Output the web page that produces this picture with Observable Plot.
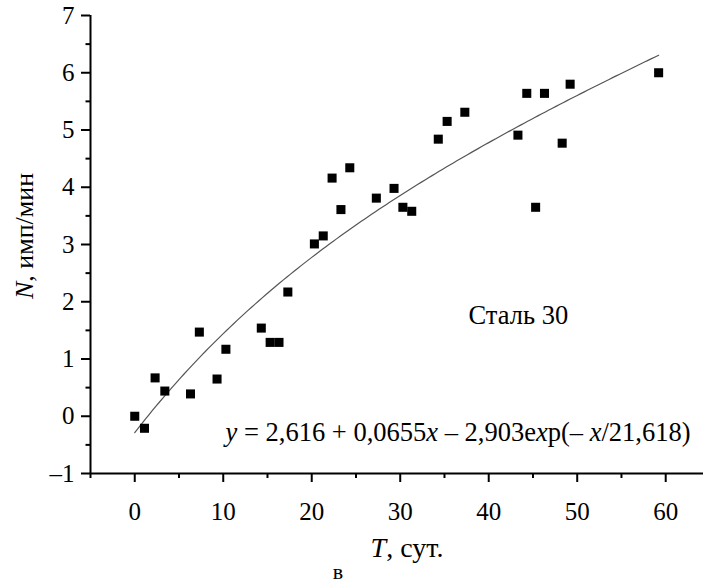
<!DOCTYPE html>
<html><head><meta charset="utf-8">
<script src="https://cdn.jsdelivr.net/npm/d3@7"></script>
<script src="https://cdn.jsdelivr.net/npm/@observablehq/plot@0.6"></script>
<style>
body{margin:0;background:#fff;font-family:"Liberation Serif",serif;}
svg{display:block;}
</style>
</head><body><div id="chart"></div>
<script>
// Data
const days   = [0, 1.1, 2.3, 3.4, 6.3, 7.3, 9.3, 10.3, 14.3, 15.3, 16.3, 17.3,
                20.3, 21.3, 22.3, 23.3, 24.3, 27.3, 29.3, 30.3, 31.3,
                34.3, 35.3, 37.3, 43.3, 44.3, 45.3, 46.3, 48.3, 49.2, 59.2];
const counts = [0, -0.21, 0.67, 0.44, 0.39, 1.47, 0.65, 1.17, 1.54, 1.29, 1.29, 2.17,
                3.01, 3.15, 4.16, 3.61, 4.34, 3.81, 3.98, 3.65, 3.58,
                4.84, 5.15, 5.31, 4.91, 5.64, 3.65, 5.64, 4.77, 5.80, 6.00];
// Fitted model shown on the chart: y = a + b*x - c*exp(-x/t)
const fitCoef = {a: 2.616, b: 0.0655, c: 2.903, t: 21.618};
const fitRange = [0, 59.2];
const xMajor = [0, 10, 20, 30, 40, 50, 60];
const xMinor = [-5, 5, 15, 25, 35, 45, 55];
const yMajor = [-1, 0, 1, 2, 3, 4, 5, 6, 7];
const yMinor = [-0.5, 0.5, 1.5, 2.5, 3.5, 4.5, 5.5, 6.5];
const equationText = "y = 2,616 + 0,0655x – 2,903exp(– x/21,618)";
const materialLabel = "Сталь 30";
const yLabel = "N, имп/мин";
const xLabel = "T, сут.";
const panelLabel = "в";

const points = days.map((d, i) => ({x: d, y: counts[i]}));
const fit = d3.range(fitRange[0], fitRange[1] + 1e-9, 0.4).concat([fitRange[1]])
  .map(x => ({x, y: fitCoef.a + fitCoef.b * x - fitCoef.c * Math.exp(-x / fitCoef.t)}));

const font = "Liberation Serif";
const chart = Plot.plot({
  width: 703, height: 582,
  marginLeft: 90, marginRight: 0, marginTop: 15, marginBottom: 109,
  style: "font-family: 'Liberation Serif', serif; font-size: 25px; color: #000; background: #fff; overflow: visible;",
  x: {domain: [-5, 64.27]},
  y: {domain: [-1, 7]},
  marks: [
    Plot.axisY({ticks: yMajor, tickSize: 9, tickPadding: 7, strokeWidth: 2, fontSize: 25, label: null, tickFormat: d => d < 0 ? "\u2013" + Math.abs(d) : String(d)}),
    Plot.axisY({ticks: yMinor, tickSize: 4.5, strokeWidth: 2, text: null, label: null}),
    Plot.axisX({ticks: xMajor, tickSize: 9, tickPadding: 20, strokeWidth: 2, fontSize: 25, label: null}),
    Plot.axisX({ticks: xMinor, tickSize: 5, strokeWidth: 2, text: null, label: null}),
    Plot.ruleX([-5], {strokeWidth: 2}),
    Plot.ruleY([-1], {strokeWidth: 2}),
    Plot.line(fit, {x: "x", y: "y", stroke: "#555", strokeWidth: 1.2}),
    Plot.dot(points, {x: "x", y: "y", symbol: "square", r: 5.1, fill: "#000", stroke: "none"}),
    Plot.text([equationText], {frameAnchor: "bottom-right", dx: -13, dy: -33, textAnchor: "end", lineAnchor: "bottom", fontSize: 26.5}),
    Plot.text([materialLabel], {frameAnchor: "top-left", dx: 378, dy: 308, textAnchor: "start", lineAnchor: "bottom", fontSize: 26.5}),
    Plot.text([yLabel], {frameAnchor: "left", dx: -66, dy: -8.5, rotate: -90, textAnchor: "middle", lineAnchor: "middle", fontSize: 26}),
    Plot.text([xLabel], {frameAnchor: "bottom", dx: 10, dy: 83, textAnchor: "middle", lineAnchor: "bottom", fontSize: 28}),
    Plot.text([panelLabel], {frameAnchor: "bottom", dx: -59, dy: 105, textAnchor: "middle", lineAnchor: "bottom", fontSize: 22})
  ]
});
document.getElementById("chart").appendChild(chart);

// Italicise variable letters inside the texts
function italicize(str, italicChars) {
  d3.select(chart).selectAll("text").each(function() {
    if (this.textContent !== str) return;
    const el = d3.select(this);
    el.text(null);
    for (const ch of str) {
      const ts = el.append("tspan").text(ch);
      if (italicChars.has(ch)) ts.attr("font-style", "italic");
    }
  });
}
italicize(equationText, new Set(["y", "x"]));
italicize(yLabel, new Set(["N"]));
italicize(xLabel, new Set(["T"]));

d3.select(chart).selectAll("text, tspan").style("font-family", "'Liberation Serif', serif");
</script></body></html>
